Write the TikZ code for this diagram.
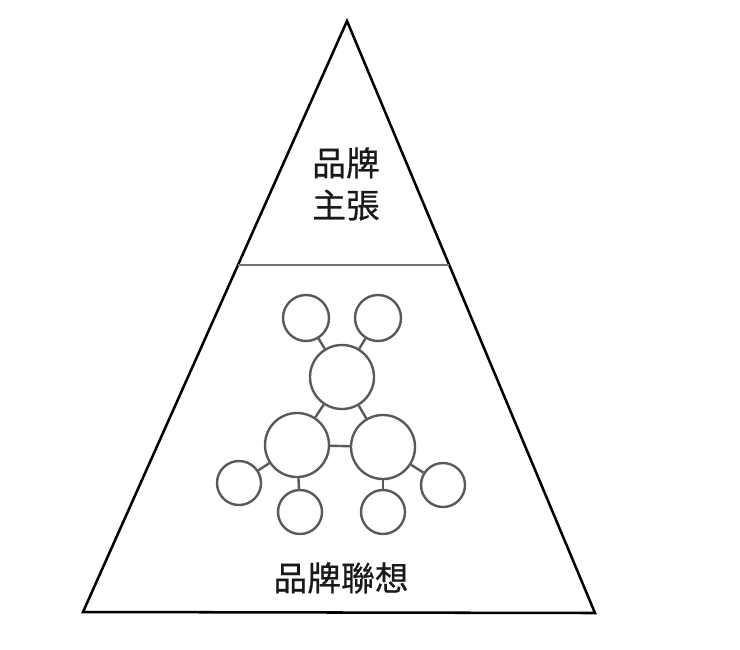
\documentclass[tikz,border=0pt]{standalone}
\usepackage{fontspec}
\newfontfamily\cjk[FakeBold=0.6]{Noto Sans CJK TC}

\begin{document}
\begin{tikzpicture} [x=0.025cm, y=-0.025cm, line join=miter,
        bubble/.style={circle, draw=black!65, line width=1.7pt, fill=white, inner sep=0pt},
        small/.style={bubble, minimum size=1.1cm},
        medium/.style={bubble, minimum size=1.6cm},
        link/.style={draw=black!65, line width=1.7pt},
        label/.style={font=\cjk\fontsize{24}{30}\selectfont, align=center, text=black!90}]
        \useasboundingbox (0,0) rectangle (740,649);

        \coordinate (A) at (347,21);
        \coordinate (L) at (83,612);
        \coordinate (R) at (595,613);

        \draw[line width=1.8pt] (A) -- (L) -- (R) -- cycle;
        \draw[black!55, line width=1.8pt] (238,265) -- (449,265);

        \node[label] (claim) at (346,184) {品牌\\主張};
        \node[label] (assoc) at (341,578) {品牌聯想};

        % bubbles
        \node[medium] (core) at (342,377) {};
        \node[medium] (left) at (297,445) {};
        \node[medium] (right) at (383,447) {};
        \node[small, minimum size=1.15cm] (topL) at (306,318) {};
        \node[small, minimum size=1.15cm] (topR) at (378,318) {};
        \node[small] (outL) at (239,483) {};
        \node[small] (lowL) at (300,512) {};
        \node[small] (lowR) at (383,512) {};
        \node[small] (outR) at (443,485) {};

        \draw[link] (topL) -- (core);
        \draw[link] (topR) -- (core);
        \draw[link] (core) -- (left);
        \draw[link] (core) -- (right);
        \draw[link] (left) -- (right);
        \draw[link] (left) -- (outL);
        \draw[link] (left) -- (lowL);
        \draw[link] (right) -- (lowR);
        \draw[link] (right) -- (outR);

    \end{tikzpicture}
\end{document}
